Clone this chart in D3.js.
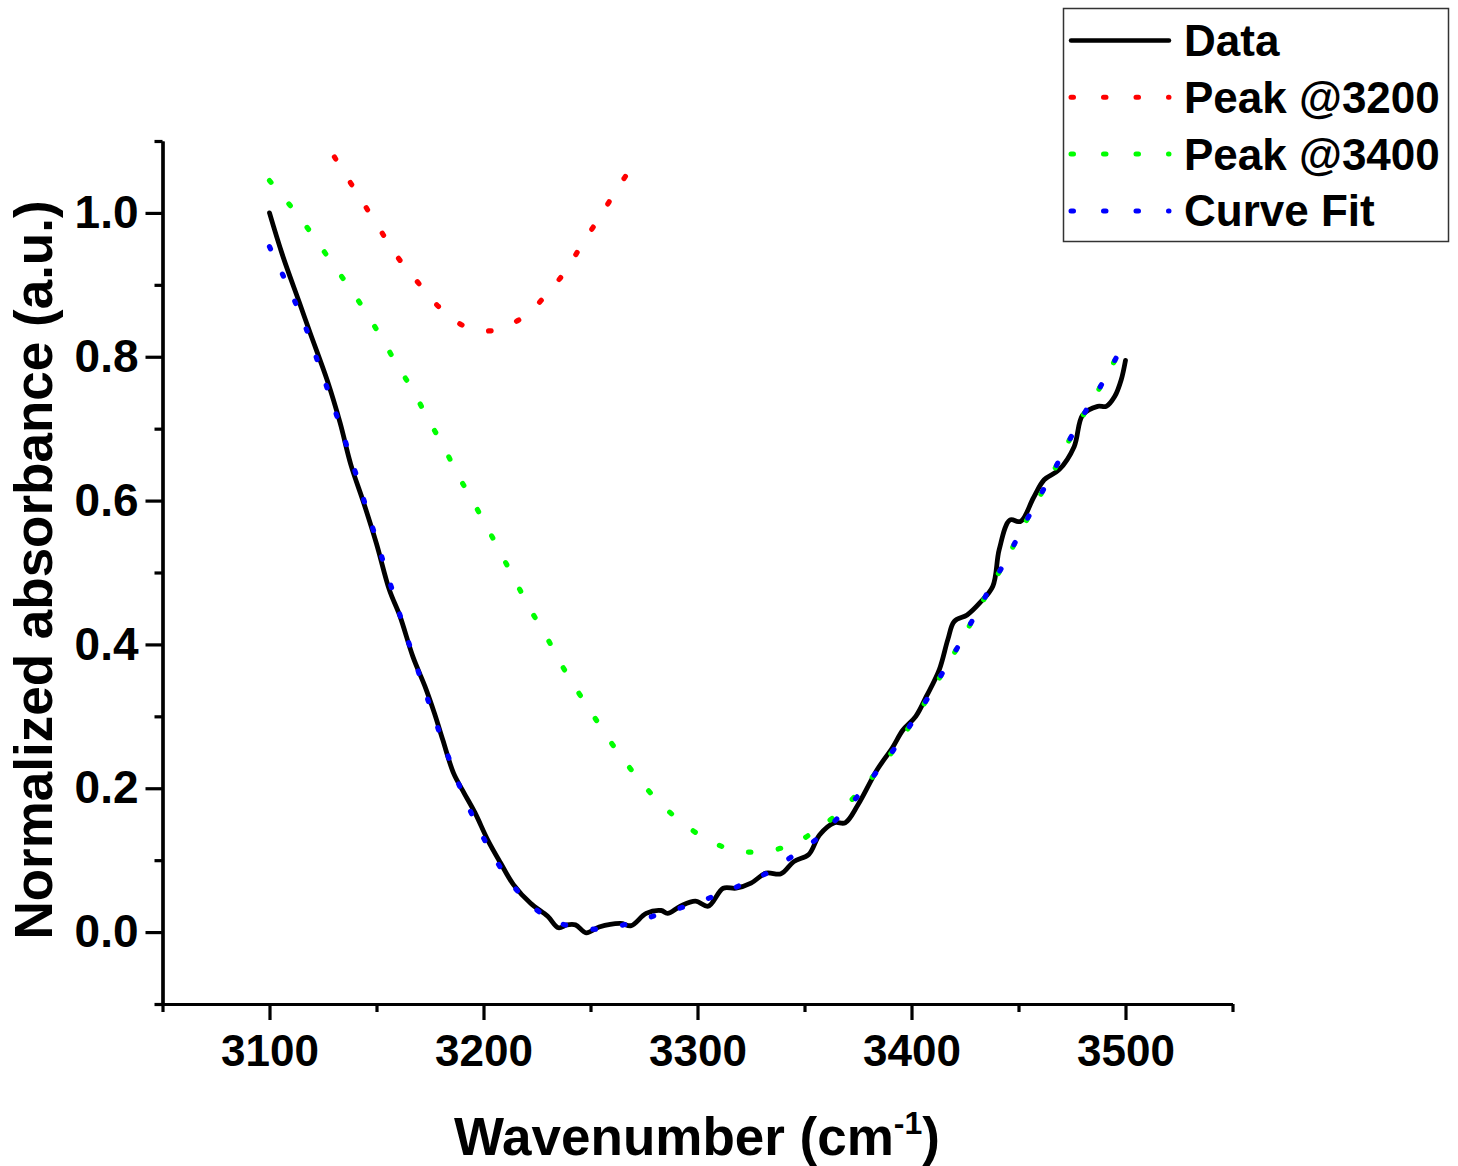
<!DOCTYPE html>
<html lang="en">
<head>
  <meta charset="UTF-8">
  <title>Normalized absorbance</title>
  <script type="text/javascript" src="https://d3js.org/d3.v7.min.js"></script>
  <style>
    body { margin: 0; background: #fff; }
    svg { display: block; font-family: "Liberation Sans", Arial, sans-serif; font-weight: bold; }
    .axis path, .axis line { stroke: #000; stroke-width: 3.2; }
    .axis text { font-size: 44px; font-weight: bold; fill: #000; }
  </style>
</head>
<body>
  <svg width="1458" height="1166"></svg>
<script type="text/javascript">
// measured data (black line)
var dataX = [3100,3106,3114,3119,3127,3133,3138,3144,3150,3156,3161,3167,3173,3177,3181,3186,3191,3196,3202,3208,3214,3222,3230,3235,3239,3243,3248,3254,3264,3269,3276,3283,3286,3292,3299,3305,3312,3318,3325,3332,3339,3345,3352,3357,3364,3369,3375,3384,3391,3396,3402,3407,3413,3417,3420,3426,3432,3438,3441,3446,3451,3457,3462,3469,3476,3480,3487,3491,3495,3498,3500];
var dataY = [1.000,0.942,0.875,0.833,0.767,0.708,0.650,0.597,0.540,0.476,0.439,0.383,0.339,0.305,0.267,0.221,0.193,0.166,0.128,0.096,0.066,0.040,0.022,0.006,0.010,0.010,-0.001,0.007,0.012,0.009,0.026,0.030,0.026,0.036,0.043,0.036,0.061,0.061,0.068,0.082,0.081,0.098,0.108,0.135,0.152,0.152,0.177,0.226,0.256,0.281,0.300,0.328,0.365,0.407,0.432,0.441,0.458,0.481,0.532,0.573,0.571,0.604,0.629,0.643,0.675,0.719,0.731,0.731,0.745,0.768,0.795];

// peak @3200 (red)
var peak3200X = [3124,3128,3137,3144,3152,3160,3170,3180,3192,3202,3207,3219,3229,3238,3246,3254,3262,3271];
var peak3200Y = [1.115,1.090,1.046,1.013,0.975,0.938,0.901,0.867,0.841,0.836,0.838,0.856,0.885,0.918,0.956,0.993,1.031,1.072];

// peak @3400 (green)
var peak3400X = [3100,3110,3119,3127,3135.5,3143.5,3151.6,3159,3167,3174,3181.5,3188,3195,3202,3215.6,3222,3229,3236.4,3244.4,3252,3260,3268.7,3278.5,3289.6,3302.7,3316.8,3331.8,3345.7,3357,3363.3,3373.7,3383,3391.3,3399.7,3407.5,3415,3422.7,3430,3437.4,3445,3451.7,3459,3466.4,3473.4,3480.7,3488,3495.2,3497];
var peak3400Y = [1.045,1.009,0.974,0.940,0.904,0.869,0.830,0.792,0.753,0.714,0.674,0.636,0.599,0.561,0.484,0.448,0.413,0.372,0.333,0.298,0.262,0.227,0.192,0.160,0.132,0.114,0.112,0.124,0.145,0.159,0.189,0.220,0.252,0.289,0.325,0.363,0.402,0.442,0.482,0.522,0.561,0.601,0.641,0.682,0.721,0.757,0.796,0.806];

// curve fit (blue)
var fitX = [3100,3106.5,3112,3117,3122,3127,3132,3136,3140.5,3145,3149.5,3154,3158.6,3163,3167.6,3171.7,3176.5,3181.6,3186.8,3192.4,3198.6,3205.6,3214,3224.3,3237,3252,3264,3278,3292.5,3307,3320.7,3333,3343.6,3354.7,3364,3373.7,3383,3391.3,3399.7,3407.5,3415,3422.7,3430,3437.4,3445,3451.7,3459,3466.4,3473.4,3480.7,3488,3495.2,3497];
var fitY = [0.953,0.912,0.876,0.840,0.798,0.756,0.713,0.677,0.636,0.592,0.550,0.507,0.464,0.421,0.380,0.343,0.302,0.260,0.218,0.178,0.139,0.101,0.064,0.032,0.011,0.004,0.009,0.021,0.034,0.049,0.066,0.083,0.104,0.127,0.154,0.185,0.220,0.252,0.289,0.325,0.363,0.402,0.442,0.482,0.522,0.561,0.601,0.641,0.682,0.721,0.757,0.796,0.806];

var xMajor = [3100,3200,3300,3400,3500];
var xMinor = [3050,3150,3250,3350,3450,3550];
var yMajor = [0.0,0.2,0.4,0.6,0.8,1.0];
var yMinor = [-0.1,0.1,0.3,0.5,0.7,0.9,1.1];

var legendNames = ["Data","Peak @3200","Peak @3400","Curve Fit"];

var svg = d3.select("svg");
var plotL = 162.5, plotR = 1232.5, plotT = 141, plotB = 1004;

var x = d3.scaleLinear().domain([3050,3550]).range([plotL,plotR]);
var y = d3.scaleLinear().domain([-0.1,1.1]).range([plotB,plotT]);

svg.append("defs").append("clipPath").attr("id","plotclip")
  .append("rect").attr("x",plotL).attr("y",plotT).attr("width",plotR-plotL).attr("height",plotB-plotT);

// axes
svg.append("g").attr("class","axis")
  .attr("transform","translate(0,"+plotB+")")
  .call(d3.axisBottom(x).tickValues(xMinor).tickSize(8).tickSizeOuter(0).tickFormat(""));
svg.append("g").attr("class","axis")
  .attr("transform","translate(0,"+plotB+")")
  .call(d3.axisBottom(x).tickValues(xMajor).tickSize(16).tickSizeOuter(0).tickPadding(15).tickFormat(d3.format("d")));

svg.append("g").attr("class","axis")
  .attr("transform","translate("+plotL+",0)")
  .call(d3.axisLeft(y).tickValues(yMinor).tickSize(8).tickSizeOuter(0).tickFormat(""));
svg.append("g").attr("class","axis y-major")
  .attr("transform","translate("+plotL+",0)")
  .call(d3.axisLeft(y).tickValues(yMajor).tickSize(17).tickSizeOuter(0).tickPadding(7).tickFormat(d3.format(".1f")));
svg.selectAll(".y-major text").style("font-size","46px");

// x title
var xt = svg.append("text")
  .attr("x",697).attr("y",1155)
  .attr("text-anchor","middle")
  .style("font-size","53px");
xt.append("tspan").text("Wavenumber (cm");
xt.append("tspan").attr("dy",-21).style("font-size","32px").text("-1");
xt.append("tspan").attr("dy",21).text(")");

// y title
svg.append("text")
  .attr("transform","translate(52,570) rotate(-90)")
  .attr("text-anchor","middle")
  .style("font-size","53px")
  .text("Normalized absorbance (a.u.)");

// lines
function pts(xs, ys) { return xs.map(function(v,i){ return [v, ys[i]]; }); }
var line = d3.line()
  .x(function(d){ return x(d[0]); })
  .y(function(d){ return y(d[1]); })
  .curve(d3.curveCatmullRom);

var plot = svg.append("g").attr("clip-path","url(#plotclip)");

var series = [
  { pts: pts(dataX,dataY), color: "#000000", dotted: false },
  { pts: pts(peak3200X,peak3200Y), color: "#ff0000", dotted: true },
  { pts: pts(peak3400X,peak3400Y), color: "#00ff00", dotted: true },
  { pts: pts(fitX,fitY), color: "#0000ff", dotted: true }
];

series.forEach(function(s){
  var p = plot.append("path")
    .attr("d", line(s.pts))
    .attr("fill","none")
    .attr("stroke", s.color)
    .attr("stroke-linejoin","round")
    .attr("stroke-linecap","round");
  if (s.dotted) {
    p.attr("stroke-width",5.2).attr("stroke-dasharray","2.5,27.5");
  } else {
    p.attr("stroke-width",4.8);
  }
});

// legend
var lg = svg.append("g");
lg.append("rect")
  .attr("x",1063.5).attr("y",8.5).attr("width",385).attr("height",233)
  .attr("fill","#fff").attr("stroke","#333").attr("stroke-width",1.5);

legendNames.forEach(function(name,i){
  var s = series[i];
  var cy = 40.5 + i*56.8;
  var l = lg.append("line")
    .attr("x1",1071).attr("x2",1169).attr("y1",cy).attr("y2",cy)
    .attr("stroke",s.color).attr("stroke-linecap","round");
  if (s.dotted) l.attr("stroke-width",5).attr("stroke-dasharray","2.5,30");
  else l.attr("stroke-width",4.5);
  lg.append("text")
    .attr("x",1184).attr("y",cy+15.5)
    .style("font-size","44px")
    .text(name);
});
</script>
</body>
</html>
